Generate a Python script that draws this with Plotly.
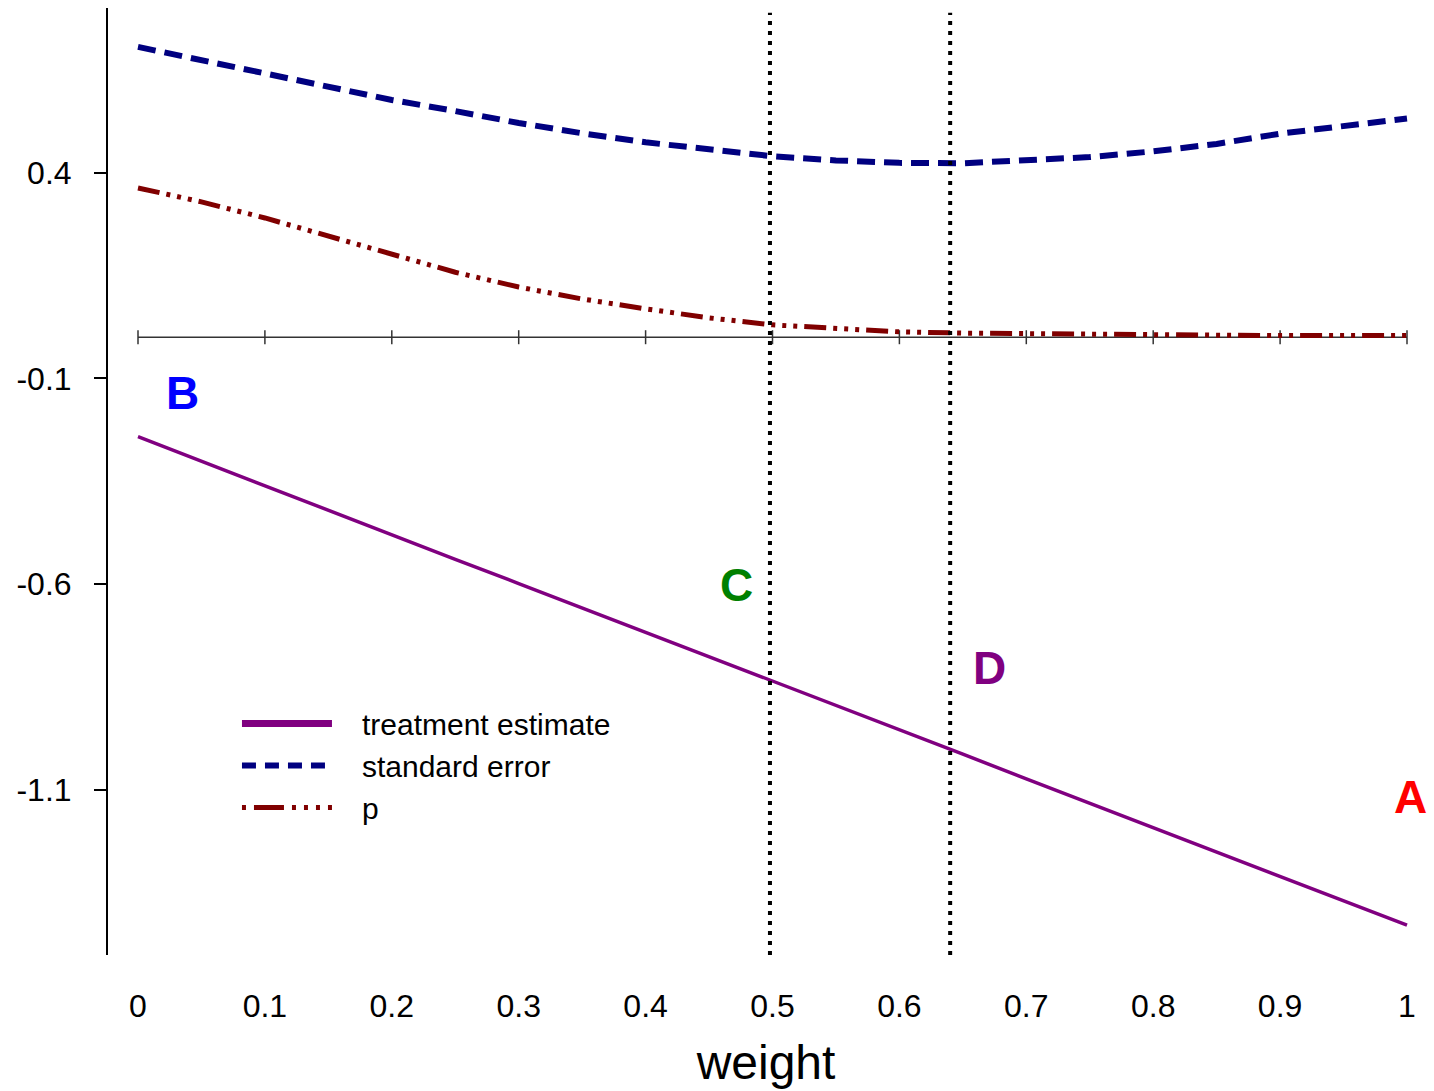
import plotly.graph_objects as go

# ---- data ----
weight = [0, 0.05, 0.1, 0.15, 0.2, 0.25, 0.3, 0.35, 0.4, 0.45, 0.5,
          0.55, 0.6, 0.65, 0.7, 0.75, 0.8, 0.85, 0.9, 0.95, 1.0]
treatment_estimate = [-0.242, -0.302, -0.361, -0.421, -0.480, -0.540, -0.599,
                      -0.658, -0.717, -0.777, -0.836, -0.895, -0.955, -1.014,
                      -1.074, -1.133, -1.193, -1.252, -1.311, -1.371, -1.430]
standard_error = [0.706, 0.674, 0.642, 0.610, 0.577, 0.550, 0.521, 0.496, 0.474,
                  0.457, 0.440, 0.430, 0.424, 0.423, 0.429, 0.438, 0.452, 0.470,
                  0.495, 0.512, 0.532]
p_value = [0.363, 0.329, 0.290, 0.246, 0.200, 0.158, 0.122, 0.093, 0.069, 0.047,
           0.030, 0.020, 0.013, 0.010, 0.008, 0.006, 0.005, 0.005, 0.004, 0.004, 0.004]

series_names = ["treatment estimate", "standard error", "p"]
vlines = [0.498, 0.64]
x_ticks = [0, 0.1, 0.2, 0.3, 0.4, 0.5, 0.6, 0.7, 0.8, 0.9, 1]
x_ticktext = ["0", "0.1", "0.2", "0.3", "0.4", "0.5", "0.6", "0.7", "0.8", "0.9", "1"]
y_ticks = [0.4, -0.1, -0.6, -1.1]
y_ticktext = ["0.4", "-0.1", "-0.6", "-1.1"]

label_text = ["A", "B", "C", "D"]
label_x = [1.003, 0.035, 0.472, 0.671]
label_y = [-1.118, -0.135, -0.603, -0.804]
label_color = ["#ff0000", "#0000ff", "#008000", "#800080"]

FONT = "Arial, Liberation Sans, sans-serif"
NB = "\u00a0" * 3

styles = [
    dict(color="#800080", width=3.5),
    dict(color="#000080", width=6, dash="18px,9px"),
    dict(color="#800000", width=5, dash="22px,7px,4px,7px,4px,7px,4px,7px"),
]
legend_styles = [
    dict(color="#800080", width=7),
    dict(color="#000080", width=6, dash="14px,9px"),
    dict(color="#800000", width=5, dash="4px,8px,30px,8px,4px,8px,4px,8px,4px,8px"),
]
series_values = [treatment_estimate, standard_error, p_value]

fig = go.Figure()
for name, vals, st in zip(series_names, series_values, styles):
    fig.add_trace(go.Scatter(x=weight, y=vals, mode="lines", name=name,
                             showlegend=False, line=st))
# legend entries (no data, only legend samples)
for name, st in zip(series_names, legend_styles):
    fig.add_trace(go.Scatter(x=[None], y=[None], mode="lines", name=NB + name,
                             showlegend=True, line=st))

shapes = []
# zero line with ticks (acts as the inner x axis)
shapes.append(dict(type="line", xref="x", yref="y", x0=x_ticks[0], x1=x_ticks[-1],
                   y0=0, y1=0, line=dict(color="#333333", width=1.5), layer="below"))
for t in x_ticks:
    shapes.append(dict(type="line", xref="x", yref="y", ysizemode="pixel", yanchor=0,
                       x0=t, x1=t, y0=-7, y1=7,
                       line=dict(color="#333333", width=1.5), layer="below"))
for v in vlines:
    shapes.append(dict(type="line", xref="x", yref="paper", x0=v, x1=v, y0=0, y1=0.995,
                       line=dict(color="black", width=4, dash="4px,6px")))

annotations = []
for t, x, y, c in zip(label_text, label_x, label_y, label_color):
    annotations.append(dict(x=x, y=y, xref="x", yref="y", text="<b>%s</b>" % t,
                            showarrow=False, font=dict(size=46, color=c, family=FONT)))

fig.update_layout(
    width=1434, height=1091,
    margin=dict(l=108, r=10, t=8, b=136),
    paper_bgcolor="white", plot_bgcolor="white",
    font=dict(family=FONT, color="black", size=32),
    shapes=shapes, annotations=annotations,
    showlegend=True,
    legend=dict(x=0.098, y=0.272, xanchor="left", yanchor="top",
                bgcolor="rgba(0,0,0,0)", font=dict(size=30), itemwidth=90,
                tracegroupgap=0),
    xaxis=dict(range=[-0.02364, 1.0134], showgrid=False, zeroline=False,
               showline=False, ticks="", tickvals=x_ticks, ticktext=x_ticktext,
               ticklabelstandoff=29, tickfont=dict(size=32),
               title=dict(text="weight", font=dict(size=48), standoff=22)),
    yaxis=dict(range=[-1.5024, 0.8006], showgrid=False, zeroline=False,
               showline=True, linecolor="black", linewidth=2,
               ticks="outside", ticklen=12, tickcolor="black", tickwidth=1.5,
               ticklabelstandoff=16,
               tickvals=y_ticks, ticktext=y_ticktext, tickfont=dict(size=32)),
)

fig.write_html("out.html")
